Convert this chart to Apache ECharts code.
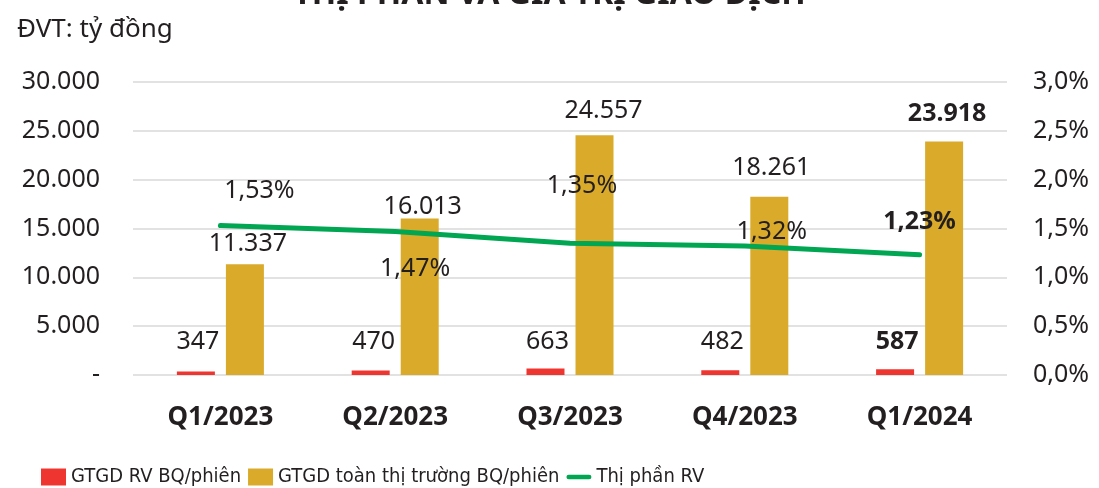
<!DOCTYPE html>
<html>
<head>
<meta charset="utf-8">
<script src="https://cdn.jsdelivr.net/npm/echarts@6/dist/echarts.min.js"></script>
<style>
  html, body { margin: 0; padding: 0; background: #fff; }
  #main { width: 1099px; height: 488px; }
</style>
</head>
<body>
<div id="main"></div>
<script>
// dữ liệu
const categories = ['Q1/2023', 'Q2/2023', 'Q3/2023', 'Q4/2023', 'Q1/2024'];
const rvValues = [347, 470, 663, 482, 587];
const marketValues = [11337, 16013, 24557, 18261, 23918];
const shareValues = [1.53, 1.47, 1.35, 1.32, 1.23];
const leftTicks = { min: 0, max: 30000, interval: 5000 };
const rightTicks = { min: 0, max: 3, interval: 0.5 };

const textColor = '#231F20';
const baseFont = 'Noto Sans';

// vị trí nhãn (chỉnh tay như file Excel gốc)
const rvLabelOffsets = [[2, -17], [3, -16], [2, -14], [2, -16], [2, -15]];
const marketLabelOffsets = [[3, -8], [3, 1], [9, -12], [2, -16], [3, -15]];
const shareLabelOffsets = [[39, -35], [20, 37], [12, -57], [27, -14], [0, -33]];

const fmtThousand = v => String(Math.round(v)).replace(/\B(?=(\d{3})+(?!\d))/g, '.');
const fmtPct = (v, d) => v.toFixed(d).replace('.', ',') + '%';
const last = categories.length - 1;

// icon đường kẻ bo tròn cho chú thích
const lineIcon = 'path://M2.5,0 H24.5 A2.5,2.5 0 0 1 24.5,5 H2.5 A2.5,2.5 0 0 1 2.5,0 Z';

const chart = echarts.init(document.getElementById('main'), null, { renderer: 'canvas' });

const option = {
  animation: false,
  textStyle: { fontFamily: baseFont, color: textColor },
  title: [
    {
      text: 'THỊ PHẦN VÀ GIÁ TRỊ GIAO DỊCH',
      left: 'center',
      top: -26,
      textStyle: { fontFamily: baseFont, fontSize: 32, fontWeight: 'bold', color: textColor }
    },
    {
      text: 'ĐVT: tỷ đồng',
      left: 12,
      top: 12,
      textStyle: { fontFamily: baseFont, fontSize: 26, fontWeight: 'normal', color: textColor }
    }
  ],
  legend: {
    left: 36,
    top: 462,
    itemWidth: 25,
    itemHeight: 17,
    itemGap: 7,
    textStyle: {
      fontFamily: "'DejaVu Sans Condensed', 'Liberation Sans Narrow', sans-serif",
      fontSize: 20,
      color: textColor
    },
    data: [
      { name: 'GTGD RV BQ/phiên', icon: 'rect' },
      { name: 'GTGD toàn thị trường BQ/phiên', icon: 'rect' },
      { name: 'Thị phần RV', icon: lineIcon }
    ]
  },
  grid: { left: 133, right: 92, top: 82, bottom: 113 },
  xAxis: {
    type: 'category',
    data: categories,
    axisLine: { show: false },
    axisTick: { show: false },
    axisLabel: {
      margin: 30,
      fontFamily: baseFont,
      fontSize: 26,
      fontWeight: 'bold',
      color: textColor
    }
  },
  yAxis: [
    {
      type: 'value',
      min: leftTicks.min,
      max: leftTicks.max,
      interval: leftTicks.interval,
      axisLine: { show: false },
      axisTick: { show: false },
      splitLine: { lineStyle: { color: '#D9D9D9', width: 1.5 } },
      axisLabel: {
        margin: 33,
        fontFamily: baseFont,
        fontSize: 25,
        color: textColor,
        formatter: v => (v === 0 ? '-' : fmtThousand(v))
      }
    },
    {
      type: 'value',
      min: rightTicks.min,
      max: rightTicks.max,
      interval: rightTicks.interval,
      axisLine: { show: false },
      axisTick: { show: false },
      splitLine: { show: false },
      axisLabel: {
        margin: 26,
        fontFamily: baseFont,
        fontSize: 25,
        color: textColor,
        formatter: v => fmtPct(v, 1)
      }
    }
  ],
  series: [
    {
      name: 'GTGD RV BQ/phiên',
      type: 'bar',
      barWidth: 38,
      barGap: '29%',
      itemStyle: { color: '#EE3530' },
      data: rvValues.map((v, i) => ({
        value: v,
        label: {
          show: true,
          position: 'top',
          distance: 0,
          offset: rvLabelOffsets[i],
          fontFamily: baseFont,
          fontSize: 25,
          fontWeight: i === last ? 'bold' : 'normal',
          color: textColor,
          formatter: p => fmtThousand(p.value)
        }
      }))
    },
    {
      name: 'GTGD toàn thị trường BQ/phiên',
      type: 'bar',
      barWidth: 38,
      itemStyle: { color: '#DAAA2A' },
      data: marketValues.map((v, i) => ({
        value: v,
        label: {
          show: true,
          position: 'top',
          distance: 0,
          offset: marketLabelOffsets[i],
          fontFamily: baseFont,
          fontSize: 25,
          fontWeight: i === last ? 'bold' : 'normal',
          color: textColor,
          formatter: p => fmtThousand(p.value)
        }
      }))
    },
    {
      name: 'Thị phần RV',
      type: 'line',
      yAxisIndex: 1,
      symbol: 'circle',
      symbolSize: 1,
      showSymbol: true,
      itemStyle: { color: '#00A651' },
      lineStyle: { color: '#00A651', width: 5, cap: 'round' },
      z: 5,
      data: shareValues.map((v, i) => ({
        value: v,
        label: {
          show: true,
          position: 'inside',
          offset: shareLabelOffsets[i],
          fontFamily: baseFont,
          fontSize: 25,
          fontWeight: i === last ? 'bold' : 'normal',
          color: textColor,
          formatter: p => fmtPct(p.value, 2)
        }
      }))
    }
  ]
};

chart.setOption(option);
</script>
</body>
</html>
